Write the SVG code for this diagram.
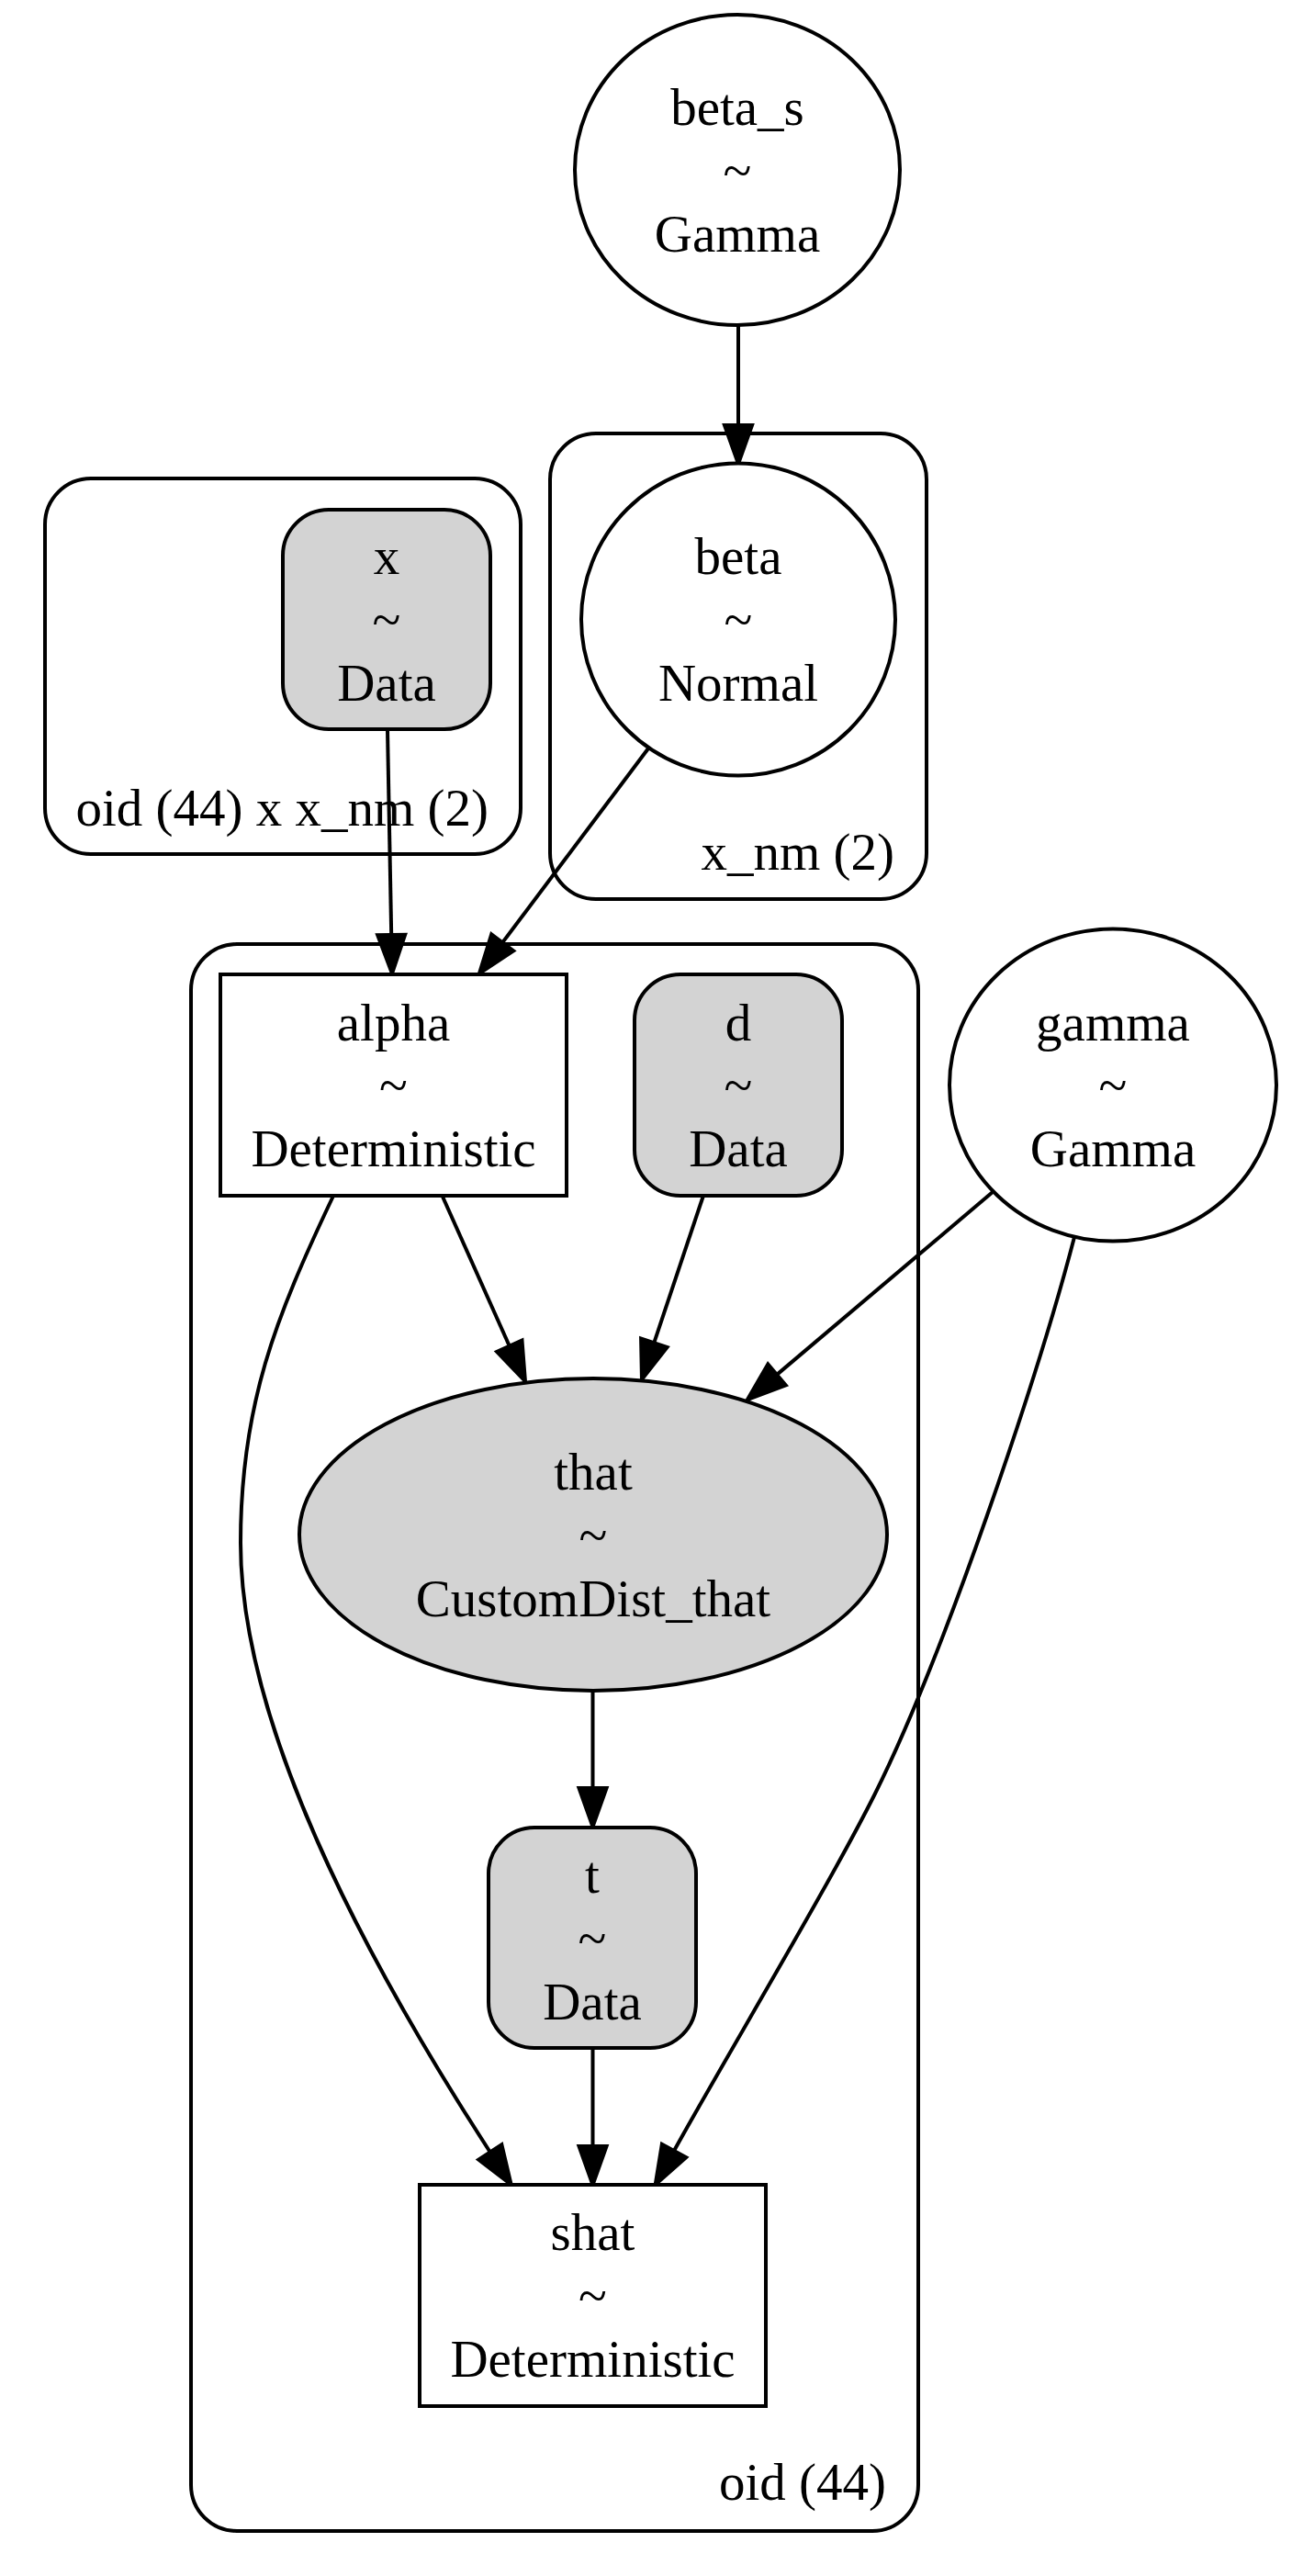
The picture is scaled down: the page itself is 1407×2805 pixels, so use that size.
<svg xmlns="http://www.w3.org/2000/svg" width="1407" height="2805" viewBox="0 0 1407 2805">
<style>
text{font-family:"Liberation Serif","Times New Roman",serif;font-size:57px;fill:#000;text-anchor:middle}
text.cl{text-anchor:end}
.shape{stroke:#000;stroke-width:4;fill:#fff}
.obs{fill:#d3d3d3}
.cluster{stroke:#000;stroke-width:4;fill:none}
.edge{stroke:#000;stroke-width:4;fill:none}
</style>
<defs>
<marker id="arr" markerUnits="userSpaceOnUse" viewBox="0 0 42 30" refX="0" refY="15" markerWidth="42" markerHeight="30" orient="auto" overflow="visible">
<path d="M0,0 L42,15 L0,30 Z" fill="#000" stroke="#000" stroke-width="4" stroke-linejoin="miter"/>
</marker>
</defs>
<rect width="1407" height="2805" fill="#fff"/>
<g id="cluster_oid_x_nm">
<rect class="cluster" x="49" y="521" width="518" height="409" rx="50"/>
<text class="cl" x="532" y="899">oid (44) x x_nm (2)</text>
</g>
<g id="cluster_x_nm">
<rect class="cluster" x="599" y="472" width="410" height="507" rx="50"/>
<text class="cl" x="974" y="947">x_nm (2)</text>
</g>
<g id="cluster_oid">
<rect class="cluster" x="208" y="1028" width="792" height="1728" rx="50"/>
<text class="cl" x="965" y="2722">oid (44)</text>
</g>
<g id="edges">
<path class="edge" d="M804,354 L804,463" marker-end="url(#arr)"/>
<path class="edge" d="M422,795 L426.2,1018" marker-end="url(#arr)"/>
<path class="edge" d="M706,815 L547.2,1026.4" marker-end="url(#arr)"/>
<path class="edge" d="M482,1303 L554.8,1465.7" marker-end="url(#arr)"/>
<path class="edge" d="M765.6,1303 L712.3,1462.2" marker-end="url(#arr)"/>
<path class="edge" d="M1081,1298 L846,1496.9" marker-end="url(#arr)"/>
<path class="edge" d="M645.5,1841 L645.5,1947" marker-end="url(#arr)"/>
<path class="edge" d="M645.5,2230 L645.5,2337" marker-end="url(#arr)"/>
<path class="edge" d="M362.6,1303 C300,1435 262,1530 262,1680 C262,1880 397.8,2133.5 533.8,2343.5" marker-end="url(#arr)"/>
<path class="edge" d="M1170,1347 C1131,1497 1028,1803 953,1953 C903,2053 787,2246 734,2342" marker-end="url(#arr)"/>
</g>
<g id="beta_s">
<ellipse class="shape" cx="803" cy="185" rx="177" ry="169"/>
<text x="803" y="136">beta_s</text>
<text x="803" y="205">~</text>
<text x="803" y="274">Gamma</text>
</g>
<g id="beta">
<ellipse class="shape" cx="804" cy="674.5" rx="171" ry="170"/>
<text x="804" y="625">beta</text>
<text x="804" y="694">~</text>
<text x="804" y="763">Normal</text>
</g>
<g id="x">
<rect class="shape obs" x="308" y="555" width="226" height="239" rx="50"/>
<text x="421" y="625">x</text>
<text x="421" y="694">~</text>
<text x="421" y="763">Data</text>
</g>
<g id="alpha">
<rect class="shape" x="240" y="1061" width="377" height="241"/>
<text x="428.5" y="1133">alpha</text>
<text x="428.5" y="1201">~</text>
<text x="428.5" y="1270">Deterministic</text>
</g>
<g id="d">
<rect class="shape obs" x="691" y="1061" width="226" height="241" rx="50"/>
<text x="804" y="1133">d</text>
<text x="804" y="1201">~</text>
<text x="804" y="1270">Data</text>
</g>
<g id="gamma">
<ellipse class="shape" cx="1212" cy="1181.5" rx="178" ry="170"/>
<text x="1212" y="1133">gamma</text>
<text x="1212" y="1201">~</text>
<text x="1212" y="1270">Gamma</text>
</g>
<g id="that">
<ellipse class="shape obs" cx="646" cy="1671" rx="320" ry="170"/>
<text x="646" y="1622">that</text>
<text x="646" y="1691">~</text>
<text x="646" y="1760">CustomDist_that</text>
</g>
<g id="t">
<rect class="shape obs" x="532" y="1990" width="226" height="240" rx="50"/>
<text x="645" y="2061">t</text>
<text x="645" y="2130">~</text>
<text x="645" y="2199">Data</text>
</g>
<g id="shat">
<rect class="shape" x="457" y="2379" width="377" height="241"/>
<text x="645.5" y="2450">shat</text>
<text x="645.5" y="2519">~</text>
<text x="645.5" y="2588">Deterministic</text>
</g>
</svg>
